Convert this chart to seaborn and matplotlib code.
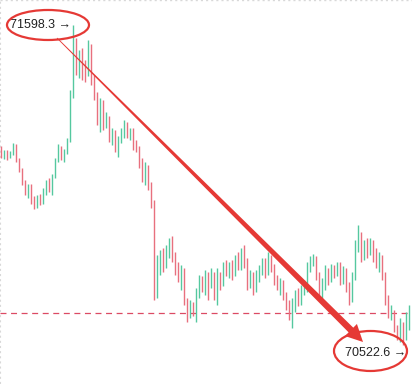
import numpy as np
import pandas as pd
import matplotlib
matplotlib.use("Agg")
import matplotlib.pyplot as plt
import seaborn as sns
from matplotlib.patches import Ellipse, Polygon
from matplotlib.transforms import IdentityTransform

# ---- data (BTC-like candles) ----
open_ = [71185, 71158, 71171, 71155, 71168, 71192, 71144, 71111, 71071, 71037,
         71057, 71010, 70990, 71017, 71003, 71037, 71057, 71044, 71091, 71144,
         71185, 71158, 71171, 71212, 71363, 71531, 71447, 71497, 71454, 71440,
         71531, 71420, 71363, 71296, 71339, 71262, 71286, 71218, 71239, 71185,
         71212, 71229, 71266, 71229, 71245, 71205, 71185, 71144, 71084, 71118,
         71060, 70993, 70707, 70802, 70815, 70792, 70842, 70859, 70825, 70781,
         70758, 70775, 70674, 70623, 70657, 70634, 70707, 70741, 70714, 70758,
         70734, 70758, 70707, 70758, 70734, 70792, 70768, 70781, 70768, 70815,
         70792, 70835, 70802, 70734, 70758, 70707, 70748, 70775, 70802, 70768,
         70808, 70781, 70748, 70724, 70734, 70691, 70657, 70623, 70667, 70691,
         70674, 70707, 70724, 70781, 70802, 70815, 70758, 70701, 70734, 70775,
         70748, 70781, 70768, 70792, 70741, 70775, 70724, 70681, 70758, 70859,
         70892, 70825, 70859, 70842, 70869, 70825, 70802, 70815, 70758, 70674,
         70623, 70634, 70580, 70556, 70590, 70546, 70600]
close = [71158, 71171, 71155, 71168, 71192, 71144, 71111, 71071, 71037, 71057,
         71010, 70990, 71017, 71003, 71037, 71057, 71044, 71091, 71144, 71185,
         71158, 71171, 71212, 71363, 71531, 71447, 71497, 71454, 71440, 71531,
         71420, 71363, 71296, 71339, 71262, 71286, 71218, 71239, 71185, 71212,
         71229, 71266, 71229, 71245, 71205, 71185, 71144, 71084, 71118, 71060,
         70993, 70707, 70802, 70815, 70792, 70842, 70859, 70825, 70781, 70758,
         70775, 70674, 70623, 70657, 70634, 70707, 70741, 70714, 70758, 70734,
         70758, 70707, 70758, 70734, 70792, 70768, 70781, 70768, 70815, 70792,
         70835, 70802, 70734, 70758, 70707, 70748, 70775, 70802, 70768, 70808,
         70781, 70748, 70724, 70734, 70691, 70657, 70623, 70667, 70691, 70674,
         70707, 70724, 70781, 70802, 70815, 70758, 70701, 70734, 70775, 70748,
         70781, 70768, 70792, 70741, 70775, 70724, 70681, 70758, 70859, 70892,
         70825, 70859, 70842, 70869, 70825, 70802, 70815, 70758, 70674, 70623,
         70634, 70580, 70556, 70590, 70546, 70600, 70623]
high = [71192, 71178, 71178, 71175, 71202, 71198, 71151, 71118, 71077, 71064,
        71064, 71023, 71027, 71030, 71050, 71077, 71084, 71097, 71151, 71198,
        71192, 71181, 71218, 71380, 71598.3, 71555, 71514, 71521, 71481, 71548,
        71534, 71430, 71373, 71353, 71346, 71306, 71292, 71252, 71245, 71225,
        71252, 71279, 71272, 71252, 71252, 71212, 71192, 71151, 71138, 71128,
        71071, 71010, 70825, 70842, 70849, 70859, 70882, 70889, 70835, 70802,
        70792, 70781, 70681, 70674, 70667, 70714, 70758, 70755, 70775, 70768,
        70781, 70768, 70781, 70768, 70802, 70808, 70802, 70808, 70825, 70835,
        70849, 70859, 70815, 70775, 70768, 70775, 70792, 70815, 70815, 70835,
        70825, 70795, 70758, 70748, 70741, 70701, 70674, 70681, 70707, 70714,
        70724, 70741, 70802, 70822, 70829, 70822, 70768, 70748, 70792, 70781,
        70795, 70792, 70802, 70802, 70788, 70781, 70734, 70768, 70876, 70926,
        70902, 70876, 70882, 70882, 70876, 70849, 70835, 70825, 70768, 70691,
        70657, 70640, 70590, 70613, 70600, 70634, 70657]
low = [71151, 71148, 71144, 71151, 71161, 71138, 71104, 71060, 71027, 71017,
       70997, 70980, 70983, 70993, 70997, 71027, 71037, 71027, 71084, 71138,
       71144, 71138, 71165, 71205, 71353, 71430, 71420, 71413, 71407, 71427,
       71397, 71346, 71262, 71239, 71245, 71252, 71205, 71195, 71171, 71155,
       71202, 71218, 71218, 71212, 71178, 71171, 71118, 71071, 71060, 71044,
       70983, 70674, 70681, 70758, 70768, 70781, 70815, 70802, 70758, 70734,
       70707, 70657, 70600, 70613, 70620, 70600, 70681, 70701, 70691, 70674,
       70714, 70674, 70657, 70707, 70721, 70755, 70748, 70741, 70755, 70775,
       70775, 70781, 70707, 70714, 70691, 70701, 70734, 70758, 70748, 70758,
       70768, 70724, 70707, 70691, 70674, 70640, 70607, 70580, 70634, 70654,
       70657, 70691, 70701, 70768, 70788, 70741, 70674, 70681, 70707, 70724,
       70734, 70748, 70755, 70724, 70728, 70701, 70657, 70667, 70741, 70835,
       70802, 70808, 70815, 70825, 70802, 70781, 70768, 70741, 70657, 70613,
       70607, 70566, 70539, 70533, 70522.6, 70539, 70573]
ref_level = 70630

df = pd.DataFrame({"open": open_, "close": close, "high": high, "low": low})
df["idx"] = np.arange(len(df))
df["dir"] = np.where(df["close"] >= df["open"], "up", "down")

GREEN = "#55c89f"
RED = "#e8707e"
ANN = "#e53935"

sns.set_theme(style="white")
plt.rcParams["font.family"] = ["Liberation Sans", "DejaVu Sans"]
plt.rcParams["lines.scale_dashes"] = False

fig = plt.figure(figsize=(4.12, 3.84), dpi=100)
ax = fig.add_axes([0, 0, 1, 1])

ax.set_xlim(-0.5, -0.5 + 412 / 3)
ax.set_ylim(70391.45, 71682.3)

for d, col in (("up", GREEN), ("down", RED)):
    sub = df[df["dir"] == d]
    ax.vlines(sub["idx"], sub["low"], sub["high"], color=col, lw=1.0, zorder=2)
    bottoms = np.minimum(sub["open"], sub["close"])
    heights = np.maximum(np.abs(sub["close"] - sub["open"]), 1.5)
    ax.bar(sub["idx"], heights, bottom=bottoms, width=0.62, color=col,
           edgecolor="none", zorder=3)

# dashed reference level
ax.axhline(ref_level, color="#dc4a64", lw=0.9, dashes=(4.3, 3.3), zorder=1)

ax.set_xticks([])
ax.set_yticks([])
for s in ax.spines.values():
    s.set_visible(False)
# faint dotted frame (top and left)
ax.axhline(71682.3, color="#d8d8d8", lw=1.0, dashes=(1.5, 2.2), zorder=0)
ax.axvline(-0.5, color="#d8d8d8", lw=1.5, dashes=(1.5, 2.2), zorder=0)

i_hi = int(np.argmax(df["high"]))
i_lo = int(np.argmin(df["low"]))
hi_val = df["high"][i_hi]
lo_val = df["low"][i_lo]

fig.canvas.draw()
hp = ax.transData.transform((i_hi, hi_val))
lp = ax.transData.transform((i_lo, lo_val))

ax.annotate(f"{hi_val:.1f} →", xy=(i_hi, hi_val), xytext=(-2, 0),
            textcoords="offset pixels", ha="right", va="center",
            fontsize=9, color="#222222", zorder=6)
ax.annotate(f"{lo_val:.1f} →", xy=(i_lo, lo_val), xytext=(3, -8),
            textcoords="offset pixels", ha="right", va="center",
            fontsize=9, color="#222222", zorder=6)

idt = IdentityTransform()
fig.add_artist(Ellipse((hp[0] - 25.5, hp[1] + 0), 82, 30, fill=False,
                       edgecolor=ANN, lw=1.6, transform=idt))
fig.add_artist(Ellipse((lp[0] - 33, lp[1] - 6), 73, 40, fill=False,
                       edgecolor=ANN, lw=1.6, transform=idt))

# tapered arrow from the high label toward the low label
S = np.array([hp[0] - 16.5, hp[1] - 13])
T = np.array([lp[0] - 40.5, lp[1] + 3])
u = (T - S) / np.linalg.norm(T - S)
nv = np.array([-u[1], u[0]])
L = np.linalg.norm(T - S)
B = S + u * (L - 17)
pts = [S + nv * 0.4, B + nv * 3.3, B + nv * 8.5, T,
       B - nv * 8.5, B - nv * 3.3, S - nv * 0.4]
fig.add_artist(Polygon(pts, closed=True, facecolor=ANN, edgecolor="none",
                       transform=idt, zorder=5))

fig.savefig("out.png", dpi=100)
